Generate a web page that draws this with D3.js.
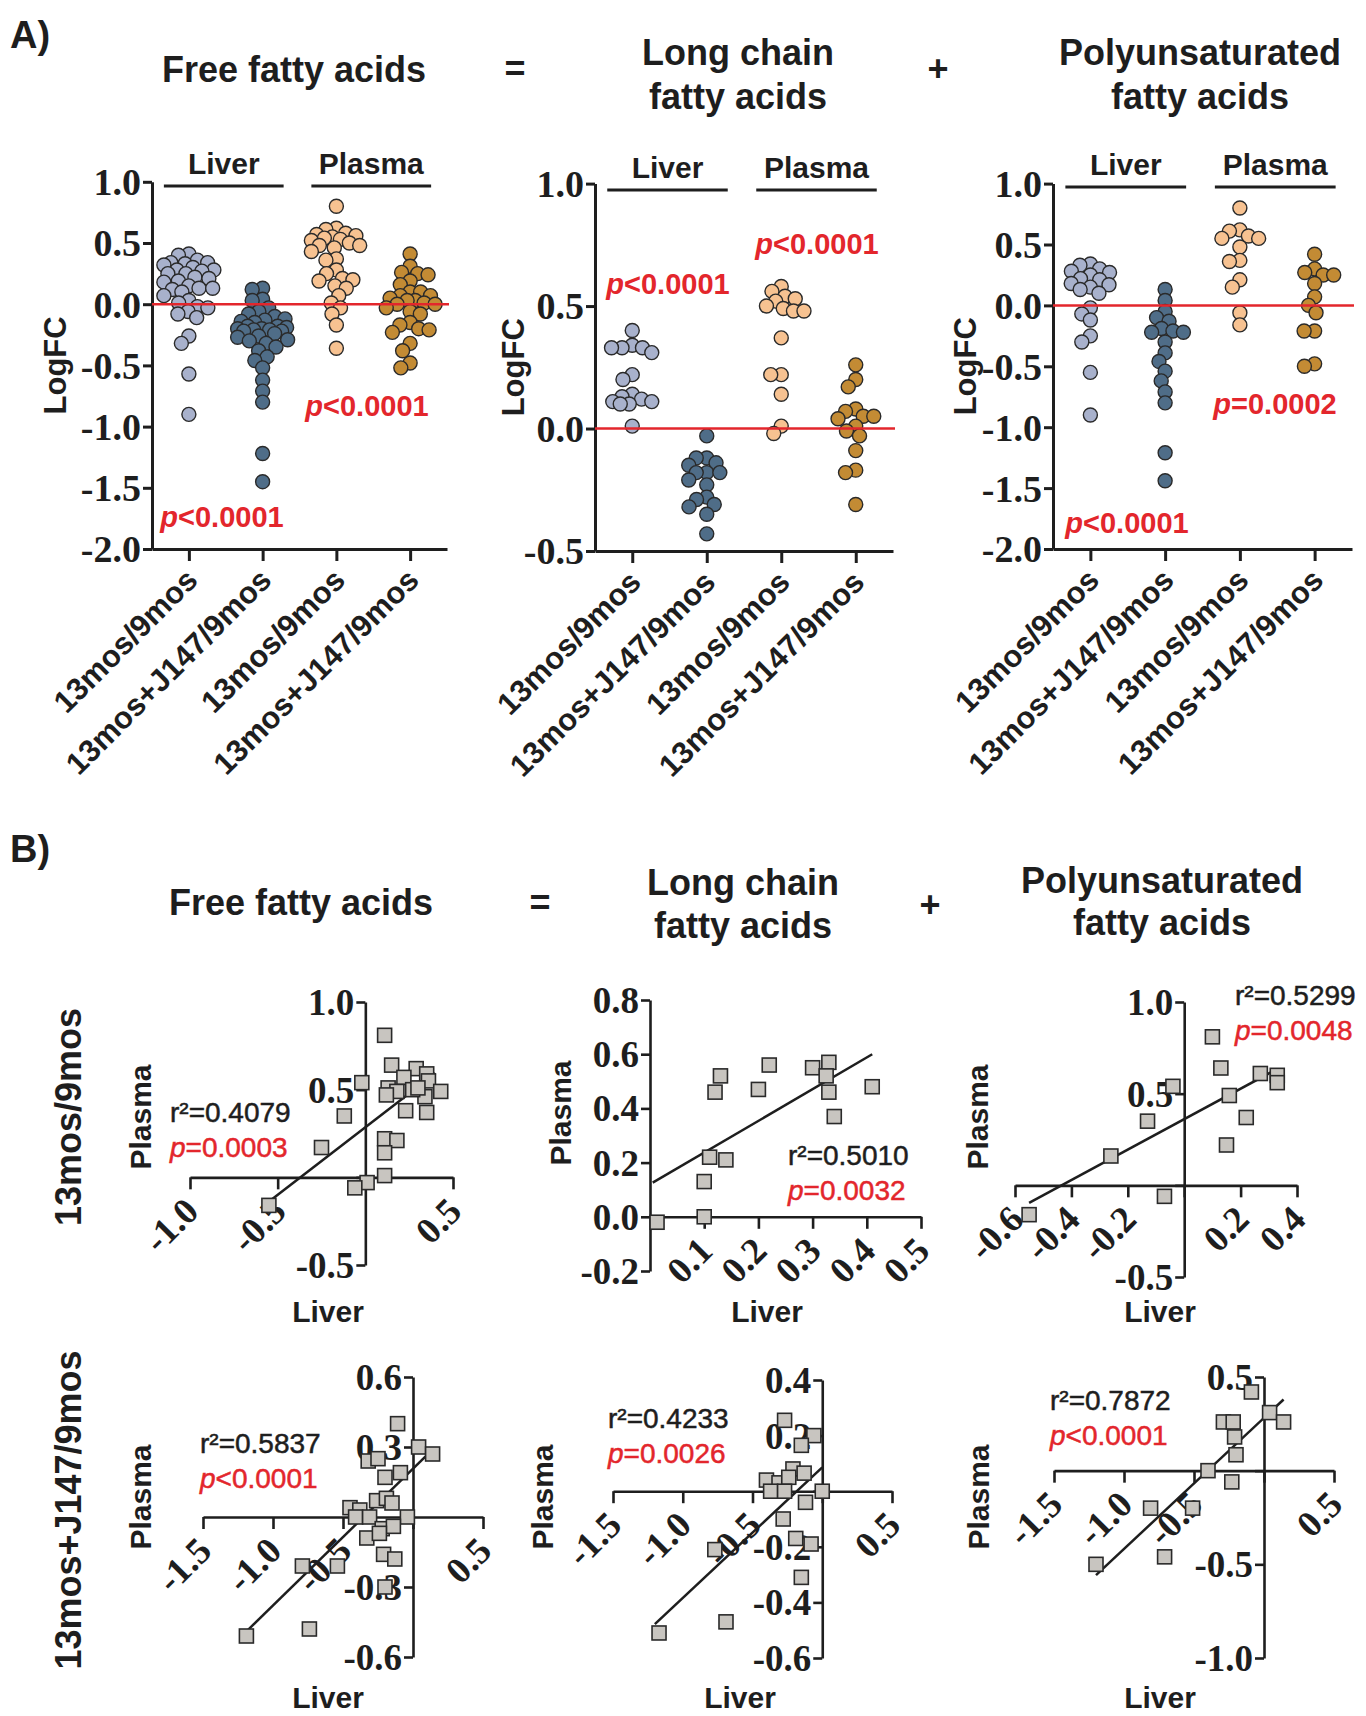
<!DOCTYPE html>
<html><head><meta charset="utf-8">
<script src="https://cdn.jsdelivr.net/npm/d3@7"></script>
<style>body{margin:0;background:#fff}svg{display:block}</style>
</head><body>
<svg id="fig" width="1366" height="1716"></svg>
<script>
// ================= DATA =================
const categories = ["13mos/9mos", "13mos+J147/9mos", "13mos/9mos", "13mos+J147/9mos"];
const tissueLabels = ["Liver", "Plasma"];
const panelTitles = [["Free fatty acids"], ["Long chain", "fatty acids"], ["Polyunsaturated", "fatty acids"]];
const rowLabels = ["13mos/9mos", "13mos+J147/9mos"];

// Panel A: LogFC values per group
const ffaLiver13   = [0.41, 0.40, 0.36, 0.34, 0.34, 0.33, 0.32, 0.30, 0.28, 0.28, 0.27, 0.25, 0.25, 0.22, 0.21, 0.19, 0.18, 0.15, 0.13, 0.13, 0.12, 0.10, 0.07, 0.03, 0.01, -0.02, -0.03, -0.06, -0.08, -0.11, -0.26, -0.32, -0.57, -0.90];
const ffaLiverJ147 = [0.13, 0.12, 0.04, 0.03, -0.03, -0.06, -0.08, -0.10, -0.12, -0.13, -0.14, -0.15, -0.18, -0.18, -0.19, -0.20, -0.20, -0.21, -0.21, -0.22, -0.22, -0.24, -0.26, -0.27, -0.29, -0.30, -0.32, -0.35, -0.38, -0.43, -0.46, -0.52, -0.62, -0.71, -0.80, -1.22, -1.45];
const ffaPlasma13  = [0.80, 0.62, 0.61, 0.58, 0.57, 0.56, 0.55, 0.54, 0.53, 0.52, 0.50, 0.48, 0.48, 0.46, 0.43, 0.37, 0.36, 0.28, 0.25, 0.21, 0.20, 0.19, 0.15, 0.13, 0.07, 0.01, -0.03, -0.08, -0.17, -0.36];
const ffaPlasmaJ147= [0.41, 0.31, 0.26, 0.25, 0.24, 0.19, 0.16, 0.10, 0.10, 0.07, 0.07, 0.05, 0.03, 0.03, 0.01, 0.00, 0.00, -0.03, -0.06, -0.08, -0.15, -0.17, -0.20, -0.21, -0.23, -0.32, -0.38, -0.48, -0.52];

const lcLiver13    = [0.40, 0.34, 0.33, 0.33, 0.33, 0.31, 0.22, 0.20, 0.14, 0.13, 0.12, 0.11, 0.11, 0.10, 0.10, 0.01];
const lcLiverJ147  = [-0.03, -0.12, -0.12, -0.14, -0.15, -0.18, -0.18, -0.18, -0.21, -0.23, -0.28, -0.29, -0.31, -0.32, -0.35, -0.43];
const lcPlasma13   = [0.58, 0.56, 0.54, 0.53, 0.52, 0.50, 0.49, 0.48, 0.48, 0.37, 0.22, 0.22, 0.14, 0.01, -0.02];
const lcPlasmaJ147 = [0.26, 0.20, 0.17, 0.08, 0.07, 0.05, 0.05, 0.04, 0.01, -0.01, -0.03, -0.09, -0.17, -0.18, -0.31];

const pufaLiver13    = [0.34, 0.33, 0.30, 0.28, 0.27, 0.25, 0.22, 0.21, 0.18, 0.17, 0.15, 0.13, 0.10, -0.02, -0.07, -0.12, -0.25, -0.30, -0.55, -0.90];
const pufaLiverJ147  = [0.13, 0.04, -0.05, -0.10, -0.13, -0.19, -0.21, -0.22, -0.22, -0.30, -0.39, -0.46, -0.54, -0.62, -0.71, -0.80, -1.21, -1.44];
const pufaPlasma13   = [0.80, 0.62, 0.61, 0.57, 0.55, 0.55, 0.48, 0.37, 0.36, 0.21, 0.15, -0.06, -0.16];
const pufaPlasmaJ147 = [0.42, 0.30, 0.27, 0.25, 0.25, 0.18, 0.07, 0.00, -0.06, -0.21, -0.21, -0.48, -0.50];

const yTicksWide = [1.0, 0.5, 0.0, -0.5, -1.0, -1.5, -2.0];
const yTicksLC   = [1.0, 0.5, 0.0, -0.5];
const pTextFFA  = ["<0.0001", "<0.0001"];
const pTextLC   = ["<0.0001", "<0.0001"];
const pTextPUFA = ["<0.0001", "=0.0002"];

// Panel B: Liver (x) vs Plasma (y)
const ffa13Liver   = [0.11, 0.15, 0.29, 0.35, -0.02, 0.22, 0.36, 0.13, 0.18, 0.12, 0.43, 0.34, 0.27, 0.30, 0.23, 0.35, -0.12, 0.11, 0.18, -0.25, 0.11, 0.11, 0.01, -0.06, -0.55];
const ffa13Plasma  = [0.81, 0.64, 0.62, 0.59, 0.54, 0.57, 0.55, 0.51, 0.49, 0.47, 0.49, 0.46, 0.50, 0.51, 0.38, 0.37, 0.35, 0.22, 0.21, 0.17, 0.14, 0.01, -0.03, -0.06, -0.16];
const lc13Liver    = [0.013, 0.10, 0.10, 0.11, 0.14, 0.12, 0.13, 0.20, 0.22, 0.30, 0.33, 0.325, 0.33, 0.34, 0.41];
const lc13Plasma   = [-0.02, 0.00, 0.13, 0.22, 0.21, 0.46, 0.52, 0.47, 0.56, 0.55, 0.57, 0.52, 0.46, 0.37, 0.48];
const pufa13Liver  = [-0.55, -0.07, -0.26, -0.13, -0.04, 0.10, 0.13, 0.15, 0.16, 0.22, 0.27, 0.33, 0.33];
const pufa13Plasma = [-0.16, -0.06, 0.16, 0.35, 0.54, 0.81, 0.64, 0.22, 0.49, 0.37, 0.61, 0.60, 0.56];
const ffaJLiver    = [-0.11, 0.04, 0.14, -0.32, -0.25, -0.09, -0.20, -0.26, -0.19, -0.45, -0.38, -0.15, -0.41, -0.31, -0.04, -0.22, -0.14, -0.33, -0.24, -0.21, -0.13, -0.54, -0.79, -0.20, -0.74, -1.19];
const ffaJPlasma   = [0.40, 0.30, 0.27, 0.24, 0.25, 0.19, 0.17, 0.07, 0.08, 0.04, 0.03, 0.06, 0.00, 0.00, 0.00, -0.05, -0.04, -0.09, -0.07, -0.16, -0.18, -0.21, -0.21, -0.30, -0.48, -0.51];
const lcJLiver     = [-0.27, -0.06, -0.15, -0.21, -0.13, -0.40, -0.31, -0.24, -0.37, -0.27, 0.00, -0.12, -0.28, -0.19, -0.08, -0.77, -0.15, -0.69, -1.17];
const lcJPlasma    = [0.255, 0.20, 0.165, 0.08, 0.065, 0.04, 0.03, 0.05, 0.00, 0.00, 0.00, -0.04, -0.10, -0.17, -0.19, -0.21, -0.31, -0.47, -0.51];
const pufaJLiver   = [-0.09, 0.04, 0.14, -0.29, -0.22, -0.21, -0.20, -0.40, -0.23, -0.51, -0.81, -0.71, -1.20];
const pufaJPlasma  = [0.42, 0.31, 0.26, 0.26, 0.26, 0.18, 0.085, 0.00, -0.06, -0.20, -0.20, -0.46, -0.50];

// regression fits: [slope, intercept, xStart, xEnd]
const fitFFA13  = [0.77, 0.285, -0.54, 0.40];
const fitLC13   = [1.17, 0.12, 0.005, 0.41];
const fitPUFA13 = [0.83, 0.361, -0.55, 0.32];
const fitFFAJ   = [0.586, 0.207, -1.20, 0.09];
const fitLCJ    = [0.47, 0.086, -1.20, 0.00];
const fitPUFAJ  = [0.70, 0.282, -1.20, 0.14];
// [r², p]
const statFFA13  = ["0.4079", "=0.0003"];
const statLC13   = ["0.5010", "=0.0032"];
const statPUFA13 = ["0.5299", "=0.0048"];
const statFFAJ   = ["0.5837", "<0.0001"];
const statLCJ    = ["0.4233", "=0.0026"];
const statPUFAJ  = ["0.7872", "<0.0001"];

// ================= STYLE =================
const SANS = "'Liberation Sans', Arial, sans-serif";
const SERIF = "'Liberation Serif', 'Times New Roman', serif";
const INK = "#1e1e1e", RED = "#e3262c";
const groupColors = ["#a8b1cc", "#4f6d88", "#f7c291", "#c38b34"];
const fmt = d => d.toFixed(1);

const svg = d3.select("#fig");

function txt(g, s, x, y, o = {}) {
  return g.append("text").attr("x", x).attr("y", y).text(s)
    .attr("font-family", o.family || SANS).attr("font-size", o.size || 30)
    .attr("font-weight", o.weight || "bold").attr("fill", o.fill || INK)
    .attr("text-anchor", o.anchor || "middle");
}
function pText(g, rest, x, y, o = {}) {
  const t = g.append("text").attr("x", x).attr("y", y)
    .attr("font-family", SANS).attr("font-size", o.size || 29)
    .attr("font-weight", o.weight || "bold").attr("fill", RED)
    .attr("text-anchor", o.anchor || "middle");
  t.append("tspan").attr("font-style", "italic").text("p");
  t.append("tspan").text(rest);
  return t;
}

// beeswarm: horizontal offsets (dots may overlap a little; width capped)
function swarm(values, cx, y, minD, maxOff) {
  const items = values.map(v => ({ v, py: y(v) })).sort((a, b) => a.py - b.py);
  const placed = [];
  for (const d of items) {
    const near = placed.filter(p => Math.abs(p.py - d.py) < minD);
    const cands = [cx];
    near.forEach(p => {
      const w = Math.sqrt(minD * minD - (p.py - d.py) ** 2);
      cands.push(p.px - w - 0.01, p.px + w + 0.01);
    });
    const ok = cands.filter(c => Math.abs(c - cx) <= maxOff &&
      near.every(p => Math.hypot(p.px - c, p.py - d.py) >= minD - 0.02))
      .sort((a, b) => Math.abs(a - cx) - Math.abs(b - cx));
    let px;
    if (ok.length) px = ok[0];
    else {
      let best = -1;
      for (let c = cx - maxOff; c <= cx + maxOff; c += 1) {
        const m = d3.min(near, p => Math.hypot(p.px - c, p.py - d.py));
        if (m > best + 0.3) { best = m; px = c; }
      }
    }
    d.px = px; placed.push(d);
  }
  return placed;
}

// ================= PANEL A =================
function dotPanel(cfg) {
  const g = svg.append("g");
  const x = d3.scalePoint().domain(d3.range(4)).range([cfg.x0, cfg.x1]).padding(0.5);
  const y = d3.scaleLinear().domain(cfg.yDomain).range([cfg.yBottom, cfg.yTop]);

  const ya = g.append("g").attr("transform", `translate(${cfg.x0},0)`)
    .call(d3.axisLeft(y).tickValues(cfg.yTicks).tickFormat(fmt).tickSize(9).tickSizeOuter(0).tickPadding(2));
  const xa = g.append("g").attr("transform", `translate(0,${cfg.yBottom})`)
    .call(d3.axisBottom(x).tickSize(12).tickSizeOuter(0).tickFormat(i => categories[i]));
  [ya, xa].forEach(a => {
    a.selectAll("path,line").attr("stroke", INK).attr("stroke-width", 3);
    a.attr("font-family", null).attr("font-size", null);
  });
  ya.selectAll("text").attr("font-family", SERIF).attr("font-weight", "bold")
    .attr("font-size", 38).attr("fill", INK).attr("dy", "0.34em");
  xa.selectAll("text").attr("font-family", SANS).attr("font-weight", "bold")
    .attr("font-size", 31).attr("fill", INK).attr("text-anchor", "end")
    .attr("y", null).attr("dy", null)
    .attr("transform", "translate(10,33) rotate(-45)");

  cfg.groups.forEach((vals, i) => {
    const pts = swarm(vals, x(i), y, 10.5, 25);
    g.append("g").selectAll("circle").data(pts).join("circle")
      .attr("cx", d => d.px).attr("cy", d => d.py).attr("r", 7)
      .attr("fill", groupColors[i]).attr("stroke", "#2a2a2a").attr("stroke-width", 1.4);
  });
  g.append("line").attr("x1", cfg.x0).attr("x2", cfg.x1 + 2)
    .attr("y1", y(0)).attr("y2", y(0)).attr("stroke", RED).attr("stroke-width", 2.5);

  [[0, 1], [2, 3]].forEach((pair, k) => {
    const a = x(pair[0]) - 25, b = x(pair[1]) + 21;
    g.append("line").attr("x1", a).attr("x2", b).attr("y1", cfg.lineY).attr("y2", cfg.lineY)
      .attr("stroke", INK).attr("stroke-width", 3);
    txt(g, tissueLabels[k], (a + b) / 2, cfg.lineY - 12, { size: 30 });
  });
  cfg.pvals.forEach((p, k) => pText(g, cfg.pText[k], p[0], p[1]));
  txt(g, "LogFC", 0, 0, { size: 31 })
    .attr("transform", `translate(${cfg.labelX},${(cfg.yTop + cfg.yBottom) / 2}) rotate(-90)`)
    .attr("dy", "0.36em");
}

dotPanel({ x0: 152, x1: 447, yTop: 181.8, yBottom: 549, yDomain: [-2, 1], yTicks: yTicksWide,
  groups: [ffaLiver13, ffaLiverJ147, ffaPlasma13, ffaPlasmaJ147], lineY: 186,
  pText: pTextFFA, pvals: [[222, 527], [367, 416]], labelX: 55 });
dotPanel({ x0: 595, x1: 893, yTop: 183.6, yBottom: 551, yDomain: [-0.5, 1], yTicks: yTicksLC,
  groups: [lcLiver13, lcLiverJ147, lcPlasma13, lcPlasmaJ147], lineY: 190,
  pText: pTextLC, pvals: [[668, 294], [817, 254]], labelX: 513 });
dotPanel({ x0: 1053, x1: 1352, yTop: 183.6, yBottom: 549, yDomain: [-2, 1], yTicks: yTicksWide,
  groups: [pufaLiver13, pufaLiverJ147, pufaPlasma13, pufaPlasmaJ147], lineY: 187,
  pText: pTextPUFA, pvals: [[1127, 533], [1275, 414]], labelX: 965 });

// headings A
const headA = svg.append("g");
txt(headA, "A)", 10, 48, { size: 38, anchor: "start" });
txt(headA, panelTitles[0][0], 294, 82, { size: 36 });
txt(headA, panelTitles[1][0], 738, 65, { size: 36 });
txt(headA, panelTitles[1][1], 738, 109, { size: 36 });
txt(headA, panelTitles[2][0], 1200, 65, { size: 36 });
txt(headA, panelTitles[2][1], 1200, 109, { size: 36 });
txt(headA, "=", 515, 81, { size: 36 });
txt(headA, "+", 938, 81, { size: 36 });

// ================= PANEL B =================
function scatterPanel(cfg) {
  const g = svg.append("g");
  const x = d3.scaleLinear().domain(cfg.xDomain).range(cfg.xRange);
  const y = d3.scaleLinear().domain(cfg.yDomain).range(cfg.yRange);
  const ax = x(0), ay = y(0);
  const xa = g.append("g").attr("transform", `translate(0,${ay})`)
    .call(d3.axisBottom(x).tickValues(cfg.xTicks).tickSize(12).tickSizeOuter(0)
      .tickFormat(d => Math.abs(d) < 1e-9 ? "" : fmt(d)));
  const ya = g.append("g").attr("transform", `translate(${ax},0)`)
    .call(d3.axisLeft(y).tickValues(cfg.yTicks).tickSize(9).tickSizeOuter(0).tickPadding(2)
      .tickFormat(d => (Math.abs(d) < 1e-9 && !cfg.showY0) ? "" : fmt(d)));
  [xa, ya].forEach(a => {
    a.selectAll("path,line").attr("stroke", INK).attr("stroke-width", 2.6);
    a.attr("font-family", null).attr("font-size", null);
    a.selectAll("text").attr("font-family", SERIF).attr("font-weight", "bold")
      .attr("font-size", 37).attr("fill", INK);
  });
  ya.selectAll("text").attr("dy", "0.34em");
  xa.selectAll("text").attr("text-anchor", "end").attr("y", null).attr("dy", null)
    .attr("transform", "translate(10,36) rotate(-45)");

  const f = cfg.fit;
  g.append("path")
    .attr("d", d3.line().x(d => x(d)).y(d => y(f[0] * d + f[1]))([f[2], f[3]]))
    .attr("stroke", INK).attr("stroke-width", 2.5).attr("fill", "none");
  const s = 14;
  g.append("g").selectAll("rect").data(cfg.xs.map((v, i) => [v, cfg.ys[i]])).join("rect")
    .attr("x", d => x(d[0]) - s / 2).attr("y", d => y(d[1]) - s / 2)
    .attr("width", s).attr("height", s)
    .attr("fill", "#c8c5c0").attr("stroke", "#2a2a2a").attr("stroke-width", 1.6);

  txt(g, "r²=" + cfg.stat[0], cfg.statPos[0], cfg.statPos[1], { size: 28, weight: "normal", anchor: "start" })
    .attr("stroke", INK).attr("stroke-width", 0.5);
  pText(g, cfg.stat[1], cfg.statPos[0], cfg.statPos[1] + 35, { size: 28, weight: "normal", anchor: "start" })
    .attr("stroke", RED).attr("stroke-width", 0.5);
  txt(g, "Plasma", 0, 0, { size: 30 })
    .attr("transform", `translate(${cfg.plasmaPos[0]},${cfg.plasmaPos[1]}) rotate(-90)`).attr("dy", "0.36em");
  txt(g, "Liver", cfg.liverPos[0], cfg.liverPos[1], { size: 30 });
}

scatterPanel({ xDomain: [-1, 0.5], xRange: [190, 453], yDomain: [-0.5, 1], yRange: [1265, 1002],
  xTicks: [-1, -0.5, 0, 0.5], yTicks: [1, 0.5, 0, -0.5], xs: ffa13Liver, ys: ffa13Plasma,
  fit: fitFFA13, stat: statFFA13, statPos: [170, 1122], plasmaPos: [140, 1117], liverPos: [328, 1322] });
scatterPanel({ xDomain: [0, 0.5], xRange: [650, 921], yDomain: [-0.2, 0.8], yRange: [1271, 1000],
  xTicks: [0.1, 0.2, 0.3, 0.4, 0.5], yTicks: [0.8, 0.6, 0.4, 0.2, 0, -0.2], showY0: true,
  xs: lc13Liver, ys: lc13Plasma, fit: fitLC13, stat: statLC13, statPos: [788, 1165],
  plasmaPos: [560, 1113], liverPos: [767, 1322] });
scatterPanel({ xDomain: [-0.6, 0.4], xRange: [1015, 1297], yDomain: [-0.5, 1], yRange: [1277, 1002],
  xTicks: [-0.6, -0.4, -0.2, 0, 0.2, 0.4], yTicks: [1, 0.5, 0, -0.5], xs: pufa13Liver, ys: pufa13Plasma,
  fit: fitPUFA13, stat: statPUFA13, statPos: [1235, 1005], plasmaPos: [977, 1117], liverPos: [1160, 1322] });
scatterPanel({ xDomain: [-1.5, 0.5], xRange: [203, 483], yDomain: [-0.6, 0.6], yRange: [1657, 1377],
  xTicks: [-1.5, -1, -0.5, 0, 0.5], yTicks: [0.6, 0.3, 0, -0.3, -0.6], xs: ffaJLiver, ys: ffaJPlasma,
  fit: fitFFAJ, stat: statFFAJ, statPos: [200, 1453], plasmaPos: [140, 1497], liverPos: [328, 1708] });
scatterPanel({ xDomain: [-1.5, 0.5], xRange: [613, 892], yDomain: [-0.6, 0.4], yRange: [1658, 1380],
  xTicks: [-1.5, -1, -0.5, 0, 0.5], yTicks: [0.4, 0.2, 0, -0.2, -0.4, -0.6], xs: lcJLiver, ys: lcJPlasma,
  fit: fitLCJ, stat: statLCJ, statPos: [608, 1428], plasmaPos: [542, 1497], liverPos: [740, 1708] });
scatterPanel({ xDomain: [-1.5, 0.5], xRange: [1054, 1334], yDomain: [-1, 0.5], yRange: [1658, 1377],
  xTicks: [-1.5, -1, -0.5, 0, 0.5], yTicks: [0.5, 0, -0.5, -1], xs: pufaJLiver, ys: pufaJPlasma,
  fit: fitPUFAJ, stat: statPUFAJ, statPos: [1050, 1410], plasmaPos: [978, 1497], liverPos: [1160, 1708] });

// headings B
const headB = svg.append("g");
txt(headB, "B)", 10, 862, { size: 38, anchor: "start" });
txt(headB, panelTitles[0][0], 301, 915, { size: 36 });
txt(headB, panelTitles[1][0], 743, 895, { size: 36 });
txt(headB, panelTitles[1][1], 743, 938, { size: 36 });
txt(headB, panelTitles[2][0], 1162, 893, { size: 36 });
txt(headB, panelTitles[2][1], 1162, 935, { size: 36 });
txt(headB, "=", 540, 915, { size: 36 });
txt(headB, "+", 930, 917, { size: 36 });
txt(headB, rowLabels[0], 0, 0, { size: 36 }).attr("transform", "translate(68,1117) rotate(-90)").attr("dy", "0.36em");
txt(headB, rowLabels[1], 0, 0, { size: 36 }).attr("transform", "translate(68,1510) rotate(-90)").attr("dy", "0.36em");
</script>
</body></html>
